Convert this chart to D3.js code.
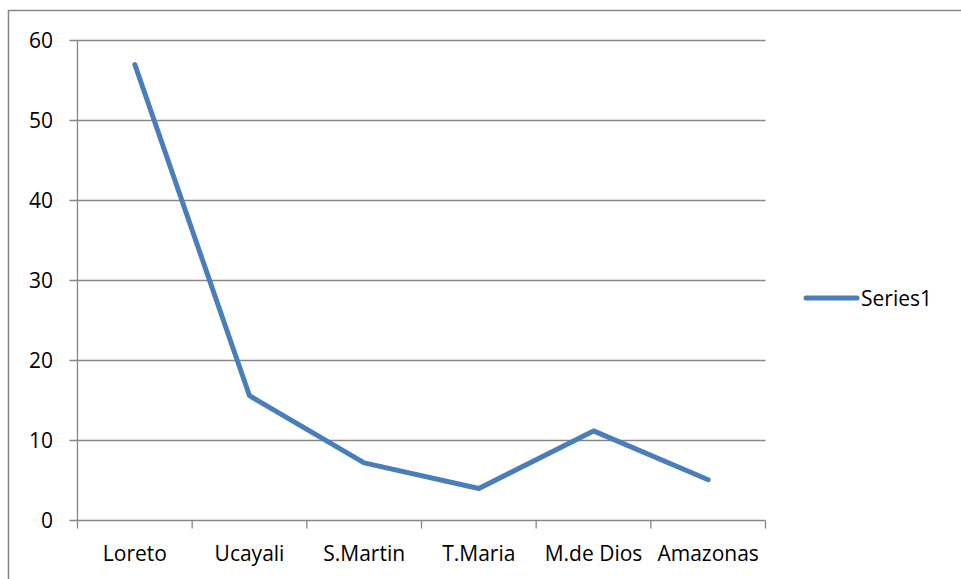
<!DOCTYPE html>
<html>
<head>
<meta charset="utf-8">
<script src="https://cdn.jsdelivr.net/npm/d3@7"></script>
<style>
  body { margin: 0; background: #fff; }
  svg { display: block; font-family: "Open Sans", Lato, sans-serif; }
</style>
</head>
<body>
<svg class="chart"></svg>
<script>
var categories = ["Loreto", "Ucayali", "S.Martin", "T.Maria", "M.de Dios", "Amazonas"];
var series1 = [57, 15.6, 7.2, 4, 11.2, 5.1];
var yTicks = [0, 10, 20, 30, 40, 50, 60];
var seriesName = "Series1";

var width = 961, height = 579;
var plotLeft = 77.5, plotRight = 765.5, plotTop = 40.5, plotBottom = 520.5;

var canvas = d3.select(".chart").attr("width", width).attr("height", height);

// outer chart frame
canvas.append("rect")
  .attr("x", 8.5).attr("y", 10.5)
  .attr("width", 1000).attr("height", 1000)
  .attr("fill", "none").attr("stroke", "#868686").attr("stroke-width", 1.5);

var x = d3.scaleBand().domain(categories).range([plotLeft, plotRight]);
var y = d3.scaleLinear().domain([0, 60]).range([plotBottom, plotTop]);

// gridlines + y labels
canvas.selectAll(".grid").data(yTicks).enter()
  .append("line")
  .attr("x1", plotLeft - 8).attr("x2", plotRight)
  .attr("y1", function(d){ return y(d); })
  .attr("y2", function(d){ return y(d); })
  .attr("stroke", "#868686").attr("stroke-width", 1.3);

canvas.selectAll(".ylab").data(yTicks).enter()
  .append("text")
  .attr("x", 53).attr("y", function(d){ return y(d) + 7.5; })
  .attr("text-anchor", "end")
  .attr("font-size", "21px").attr("fill", "#000")
  .text(function(d){ return d; });

// y axis
canvas.append("line")
  .attr("x1", plotLeft).attr("x2", plotLeft).attr("y1", plotTop).attr("y2", plotBottom)
  .attr("stroke", "#868686").attr("stroke-width", 1.3);

// x ticks
var xTickPos = categories.map(function(c){ return x(c); }).concat([plotRight]);
canvas.selectAll(".xtick").data(xTickPos).enter()
  .append("line")
  .attr("x1", function(d){ return d; }).attr("x2", function(d){ return d; })
  .attr("y1", plotBottom).attr("y2", plotBottom + 8)
  .attr("stroke", "#868686").attr("stroke-width", 1.3);

canvas.selectAll(".xlab").data(categories).enter()
  .append("text")
  .attr("x", function(d){ return x(d) + x.bandwidth() / 2; })
  .attr("y", 561)
  .attr("text-anchor", "middle")
  .attr("font-size", "21px").attr("fill", "#000")
  .text(function(d){ return d; });

// series line
var line = d3.line()
  .x(function(d, i){ return x(categories[i]) + x.bandwidth() / 2; })
  .y(function(d){ return y(d); });

canvas.append("path")
  .datum(series1)
  .attr("d", line)
  .attr("fill", "none")
  .attr("stroke", "#4a7ebb")
  .attr("stroke-width", 5)
  .attr("stroke-linecap", "round")
  .attr("stroke-linejoin", "round");

// legend
canvas.append("line")
  .attr("x1", 806).attr("x2", 857).attr("y1", 298).attr("y2", 298)
  .attr("stroke", "#4a7ebb").attr("stroke-width", 5).attr("stroke-linecap", "round");
canvas.append("text")
  .attr("x", 861).attr("y", 305.5)
  .attr("font-size", "21px").attr("fill", "#000")
  .text(seriesName);
</script>
</body>
</html>
